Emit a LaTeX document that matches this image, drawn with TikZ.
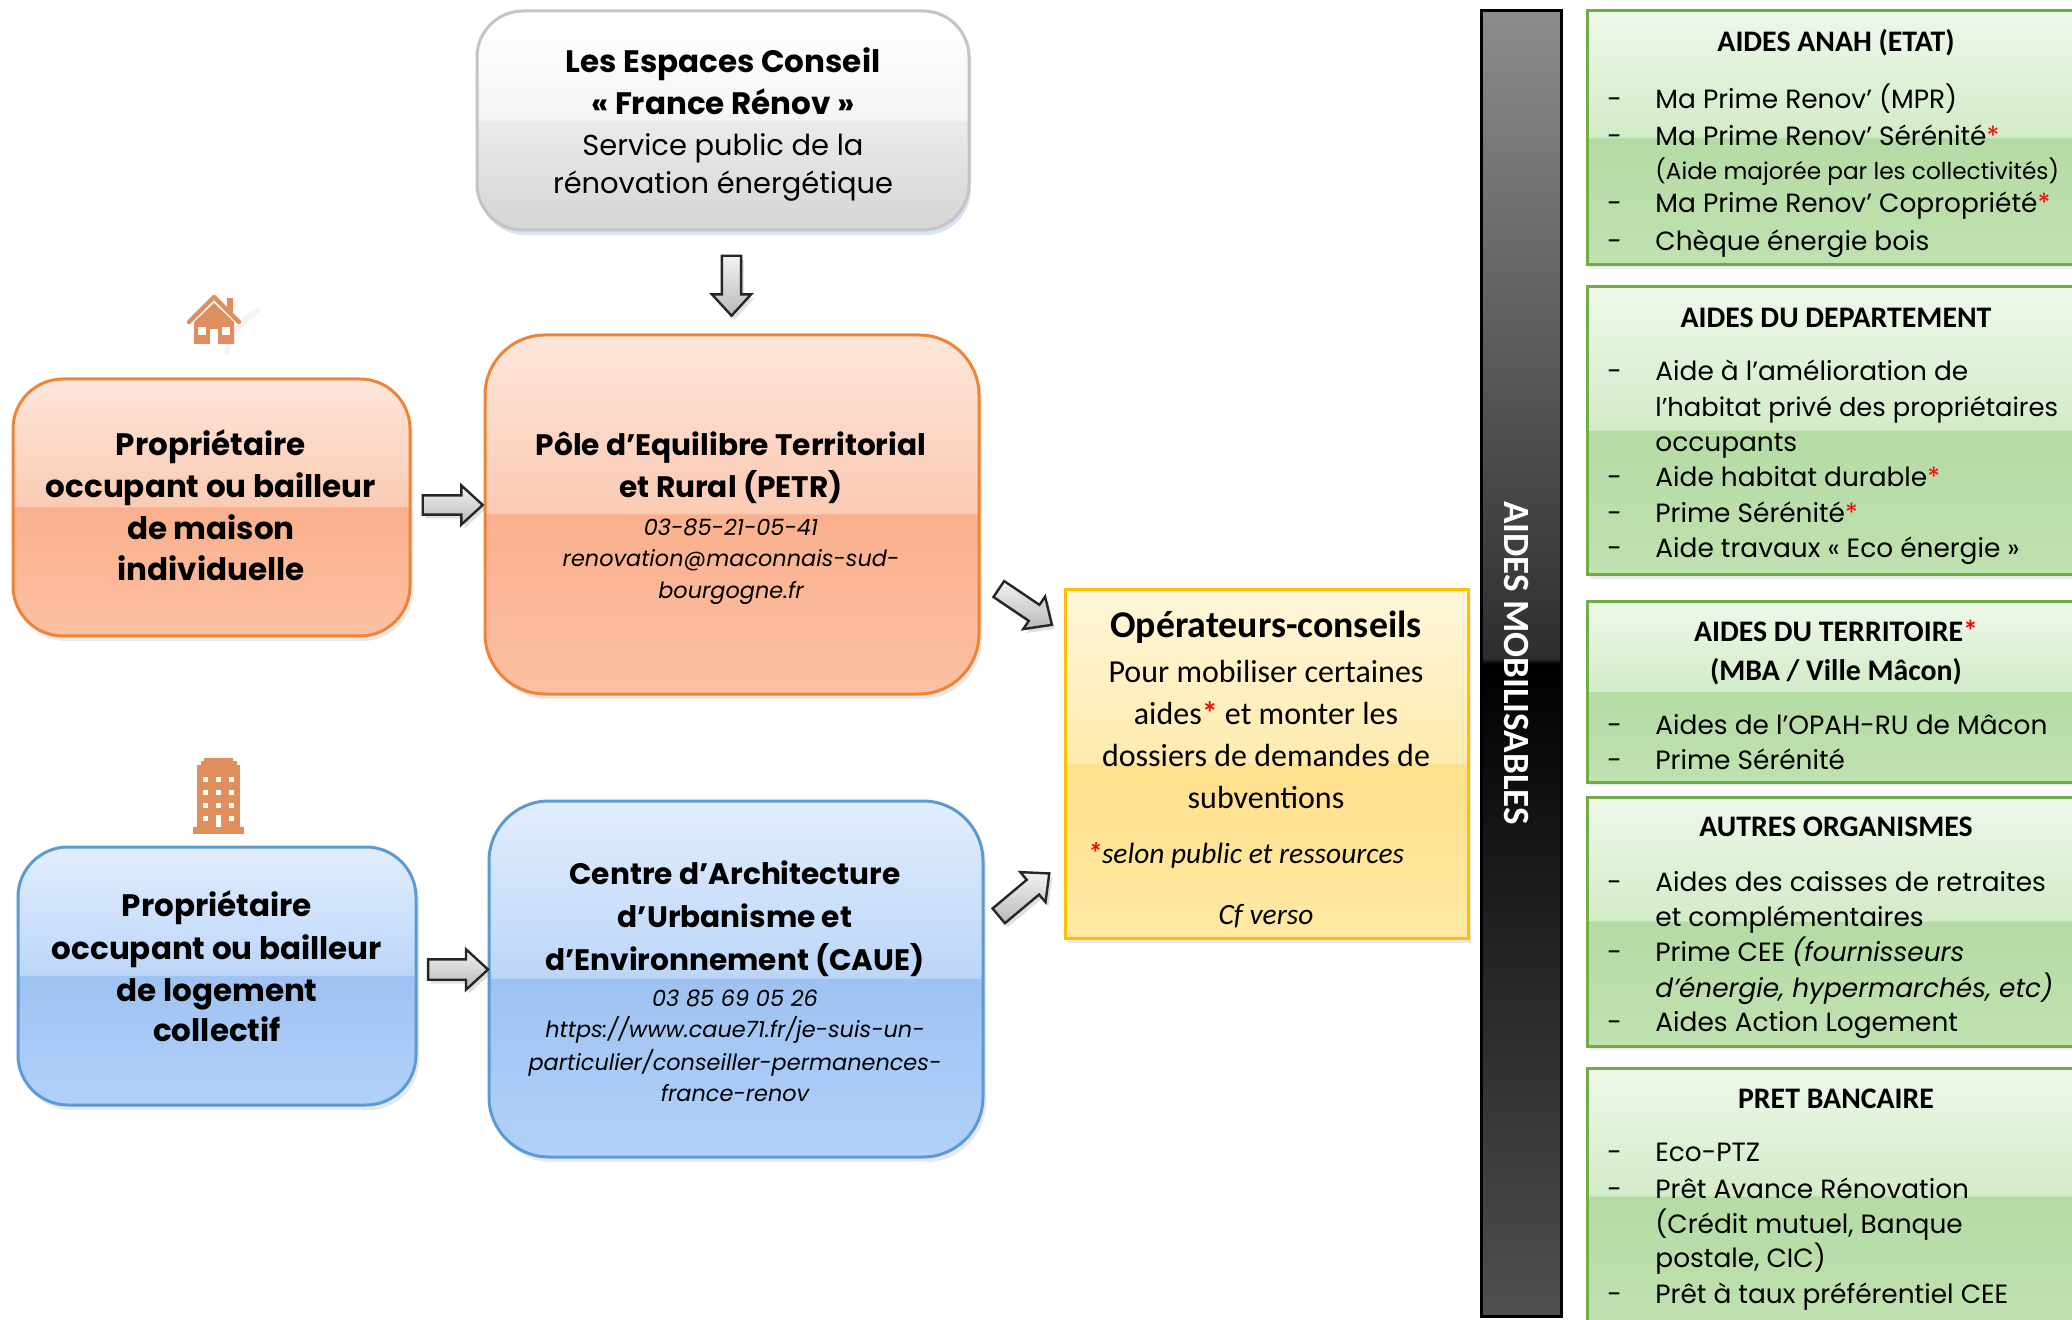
\documentclass[tikz,border=0pt]{standalone}
\usepackage{fontspec}
\setmainfont{Poppins}
\newfontfamily\calib{Carlito}
\usetikzlibrary{shapes.arrows,shadows,calc}

\definecolor{orT}{HTML}{FDE6DB}
\definecolor{orU}{HTML}{FBCBB3}
\definecolor{orL}{HTML}{FAB08D}
\definecolor{orB}{HTML}{FCC0A3}
\definecolor{orD}{HTML}{EE8435}
\definecolor{blT}{HTML}{E2EEFD}
\definecolor{blU}{HTML}{BCD6F8}
\definecolor{blL}{HTML}{9EC2F1}
\definecolor{blB}{HTML}{B1D1FA}
\definecolor{blD}{HTML}{5B9BD5}
\definecolor{gyT}{HTML}{FFFFFF}
\definecolor{gyU}{HTML}{F5F5F5}
\definecolor{gyL}{HTML}{EBEBEB}
\definecolor{gyB}{HTML}{D5D5D5}
\definecolor{gyD}{HTML}{C4C4C4}
\definecolor{yeT}{HTML}{FFF7DA}
\definecolor{yeU}{HTML}{FFEBAE}
\definecolor{yeL}{HTML}{FFE08C}
\definecolor{yeB}{HTML}{FFE9A3}
\definecolor{yeD}{HTML}{FFC000}
\definecolor{gnT}{HTML}{EEF8EA}
\definecolor{gnU}{HTML}{D3EBC8}
\definecolor{gnL}{HTML}{B5DBA4}
\definecolor{gnB}{HTML}{C0E1B0}
\definecolor{gnD}{HTML}{70AD47}
\definecolor{bkT}{HTML}{8C8C8C}
\definecolor{bkU}{HTML}{2E2E2E}
\definecolor{bkL}{HTML}{000000}
\definecolor{bkB}{HTML}{505050}
\definecolor{iconc}{HTML}{DF8F5E}
\definecolor{shadowblue}{HTML}{8FAEDC}

\pgfdeclareverticalshading{orgloss}{100bp}{color(0bp)=(orB); color(25bp)=(orB); color(50bp)=(orL); color(50.2bp)=(orU); color(75bp)=(orT); color(100bp)=(orT)}
\pgfdeclareverticalshading{blgloss}{100bp}{color(0bp)=(blB); color(25bp)=(blB); color(50bp)=(blL); color(50.2bp)=(blU); color(75bp)=(blT); color(100bp)=(blT)}
\pgfdeclareverticalshading{gygloss}{100bp}{color(0bp)=(gyB); color(25bp)=(gyB); color(50bp)=(gyL); color(50.2bp)=(gyU); color(75bp)=(gyT); color(100bp)=(gyT)}
\pgfdeclareverticalshading{yegloss}{100bp}{color(0bp)=(yeB); color(25bp)=(yeB); color(50bp)=(yeL); color(50.2bp)=(yeU); color(75bp)=(yeT); color(100bp)=(yeT)}
\pgfdeclareverticalshading{gngloss}{100bp}{color(0bp)=(gnB); color(25bp)=(gnB); color(50bp)=(gnL); color(50.2bp)=(gnU); color(75bp)=(gnT); color(100bp)=(gnT)}
\pgfdeclareverticalshading{bkgloss}{100bp}{color(0bp)=(bkB); color(25bp)=(bkB); color(50bp)=(bkL); color(50.2bp)=(bkU); color(75bp)=(bkT); color(100bp)=(bkT)}

\tikzset{
  box/.style={rectangle, inner sep=0pt, line width=1.5pt},
  softshadow/.style={drop shadow={opacity=.18, shadow xshift=1.5pt, shadow yshift=-2.5pt}},
  obox/.style={box, rounded corners=25pt, shading=orgloss, draw=orD, softshadow},
  bbox/.style={box, rounded corners=25pt, shading=blgloss, draw=blD, softshadow},
  gbox/.style={box, rounded corners=23pt, shading=gygloss, draw=gyD,
     drop shadow={fill=shadowblue, opacity=.35, shadow xshift=1pt, shadow yshift=-2.5pt}},
  ybox/.style={box, shading=yegloss, draw=yeD, softshadow},
  grbox/.style={box, shading=gngloss, draw=gnD, drop shadow={opacity=.15, shadow xshift=1.5pt, shadow yshift=-2pt}},
  kbar/.style={box, shading=bkgloss, draw=black},
  barrow/.style={single arrow, draw=black!85, line width=1.2pt, inner xsep=0pt, inner ysep=4.2pt,
     minimum height=30pt, minimum width=1pt, single arrow head extend=5pt,
     single arrow tip angle=85, top color=gray!10, bottom color=gray!55,
     drop shadow={opacity=.25, shadow xshift=1.5pt, shadow yshift=-2pt}},
  txt/.style={inner sep=0pt, anchor=mid, yshift=-2.5pt},
  ttl/.style={txt, font=\fontsize{15.5}{19}\selectfont\bfseries},
  ttlb/.style={txt, font=\fontsize{14.8}{18}\selectfont\bfseries},
  reg/.style={txt, font=\fontsize{14.45}{18}\selectfont},
  sml/.style={txt, font=\fontsize{11.2}{14}\selectfont\itshape},
  ybold/.style={txt, font=\calib\fontsize{18.9}{22}\selectfont\bfseries},
  yreg/.style={txt, font=\calib\fontsize{16}{19}\selectfont},
  yit/.style={txt, font=\calib\fontsize{14.7}{17}\selectfont\itshape},
  gh/.style={txt, font=\calib\fontsize{14.9}{17}\selectfont\bfseries},
  gi/.style={txt, anchor=mid west, font=\fontsize{13.2}{16}\selectfont},
  gis/.style={txt, anchor=mid west, font=\fontsize{11.6}{13}\selectfont},
}
\newcommand\ItemDash[3]{\node[gi] (#1d) at (1607,#2) {-}; \node[gi] (#1) at (1655,#2) {#3};}
\newcommand\ItemCont[3]{\node[gi] (#1) at (1655,#2) {#3};}
\newcommand\rs{\textcolor{red}{*}}
\newcommand\rsb{\textcolor{red}{\bfseries*}}

\begin{document}
\begin{tikzpicture}[x=0.5pt,y=-0.5pt]
\useasboundingbox (0,0) rectangle (2072,1320);

% ---------- boxes ----------
\node[gbox, minimum width=246pt, minimum height=109.5pt] (espaces) at (723,120.5) {};
\node[obox, minimum width=198.5pt, minimum height=128.5pt] (proprio1) at (211.5,507.5) {};
\node[obox, rounded corners=30pt, minimum width=247pt, minimum height=179.5pt] (petr) at (732,514.5) {};
\node[bbox, minimum width=199pt, minimum height=129pt] (proprio2) at (217,976) {};
\node[bbox, rounded corners=30pt, minimum width=247pt, minimum height=178pt] (caue) at (736,979) {};
\node[ybox, minimum width=201.5pt, minimum height=174pt] (oper) at (1266.5,764) {};
\node[kbar, minimum width=40pt, minimum height=652.5pt] (bar) at (1521,663.5) {};

\node[grbox, minimum width=266.5pt, minimum height=127pt] (g1) at (1853.5,138) {};
\node[grbox, minimum width=266.5pt, minimum height=144pt] (g2) at (1853.5,431) {};
\node[grbox, minimum width=266.5pt, minimum height=90pt] (g3) at (1853.5,692) {};
\node[grbox, minimum width=266.5pt, minimum height=124.5pt] (g4) at (1853.5,921.5) {};
\node[grbox, minimum width=266.5pt, minimum height=128.5pt] (g5) at (1853.5,1196.5) {};

% ---------- block arrows ----------
\node[barrow, rotate=-90] (a1) at ($(espaces.south)!0.5!(petr.north)+(4,-2)$) {};
\node[barrow] (a2) at ($(proprio1.east)!0.5!(petr.west)+(0,-6)$) {};
\node[barrow, inner ysep=4.5pt] (a3) at ($(proprio2.east)!0.5!(caue.west)+(0,-8)$) {};
\node[barrow, rotate=-34, minimum height=32pt] (a4) at (1021,604) {};
\node[barrow, rotate=40, minimum height=33pt] (a5) at (1020,898) {};

% ---------- icons ----------
\draw[gray!9, line width=3pt, line cap=round] (258,310) .. controls (240,322) and (229,336) .. (227,352);
\fill[iconc] (194,344) -- (194,322) -- (214,303) -- (234,322) -- (234,344) -- cycle;
\draw[iconc, line width=2.2pt, line cap=round, line join=round] (189,322) -- (214,297) -- (239,322);
\fill[iconc] (227,298) rectangle (233,312);
\fill[white] (198,327) rectangle (206,335);
\fill[white] (222,327) rectangle (230,335);
\fill[white] (210,329) rectangle (218,344);

\fill[iconc] (204,758) rectangle (233,763);
\fill[iconc] (201,761) rectangle (237,767);
\fill[iconc] (197,765) rectangle (240,829);
\fill[iconc] (193,827) rectangle (244,834);
\foreach \yy in {777,790,803} {
  \foreach \xx in {203,216,229} {\fill[white] (\xx,\yy) rectangle ++(5,5);}
}
\fill[white] (203,816) rectangle ++(5,5);
\fill[white] (229,816) rectangle ++(5,5);
\fill[white] (216,815) rectangle (221,827);

% ---------- texts ----------
\node[ttl] (e1) at (723,62) {Les Espaces Conseil};
\node[ttl] (e2) at (723,104) {« France Rénov »};
\node[reg] (e3) at (723,145) {Service public de la};
\node[reg] (e4) at (723,183) {rénovation énergétique};

\node[ttl] (p1) at (211,445) {Propriétaire};
\node[ttl] (p2) at (211,487) {occupant ou bailleur};
\node[ttl] (p3) at (211,529) {de maison};
\node[ttl] (p4) at (211,570) {individuelle};

\node[ttlb] (t1) at (731,445) {Pôle d’Equilibre Territorial};
\node[ttlb] (t2) at (731,487) {et Rural (PETR)};
\node[sml] (t3) at (731,525) {03-85-21-05-41};
\node[sml] (t4) at (731,556) {renovation@maconnais-sud-};
\node[sml] (t5) at (731,588) {bourgogne.fr};

\node[ttl] (q1) at (217,906) {Propriétaire};
\node[ttl] (q2) at (217,949) {occupant ou bailleur};
\node[ttl] (q3) at (217,991) {de logement};
\node[ttl] (q4) at (217,1031) {collectif};

\node[ttlb] (c1) at (735,874) {Centre d’Architecture};
\node[ttlb] (c2) at (735,917) {d’Urbanisme et};
\node[ttlb] (c3) at (735,960) {d’Environnement (CAUE)};
\node[sml] (c4) at (735,996) {03 85 69 05 26};
\node[sml] (c5) at (735,1027) {https://www.caue71.fr/je-suis-un-};
\node[sml] (c6) at (735,1060) {particulier/conseiller-permanences-};
\node[sml] (c7) at (735,1091) {france-renov};

\node[ybold] (o1) at (1266,627) {Opérateurs-conseils};
\node[yreg] (o2) at (1266,672) {Pour mobiliser certaines};
\node[yreg] (o3) at (1266,714) {aides\rsb{} et monter les};
\node[yreg] (o4) at (1266,756) {dossiers de demandes de};
\node[yreg] (o5) at (1266,798) {subventions};
\node[yit, anchor=mid west] (o6) at (1087,853) {\rsb selon public et ressources};
\node[yit] (o7) at (1266,914) {Cf verso};

\node[rotate=-90, inner sep=0pt, text=white, font=\calib\fontsize{18.5}{22}\selectfont\bfseries] (vlab) at (1516,663) {AIDES MOBILISABLES};

\node[gh] (h1) at (1836,41) {AIDES ANAH (ETAT)};
\ItemDash{i11}{98}{Ma Prime Renov’ (MPR)}
\ItemDash{i12}{135}{Ma Prime Renov’ Sérénité\rs}
\node[gis] (i13) at (1655,169) {(Aide majorée par les collectivités)};
\ItemDash{i14}{202}{Ma Prime Renov’ Copropriété\rs}
\ItemDash{i15}{240}{Chèque énergie bois}

\node[gh] (h2) at (1836,317) {AIDES DU DEPARTEMENT};
\ItemDash{i21}{370}{Aide à l’amélioration de}
\node[gi, font=\fontsize{12.9}{16}\selectfont] (i22) at (1655,406) {l’habitat privé des propriétaires};
\ItemCont{i23}{441}{occupants}
\ItemDash{i24}{476}{Aide habitat durable\rs}
\ItemDash{i25}{512}{Prime Sérénité\rs}
\ItemDash{i26}{547}{Aide travaux « Eco énergie »}

\node[gh] (h3) at (1836,631) {AIDES DU TERRITOIRE\rs};
\node[gh] (h3b) at (1836,670) {(MBA / Ville Mâcon)};
\ItemDash{i31}{724}{Aides de l’OPAH-RU de Mâcon}
\ItemDash{i32}{759}{Prime Sérénité}

\node[gh] (h4) at (1836,826) {AUTRES ORGANISMES};
\ItemDash{i41}{881}{Aides des caisses de retraites}
\ItemCont{i42}{916}{et complémentaires}
\ItemDash{i43}{951}{Prime CEE \textit{(fournisseurs}}
\ItemCont{i44}{987}{\textit{d’énergie, hypermarchés, etc)}}
\ItemDash{i45}{1021}{Aides Action Logement}

\node[gh] (h5) at (1836,1098) {PRET BANCAIRE};
\ItemDash{i51}{1151}{Eco-PTZ}
\ItemDash{i52}{1188}{Prêt Avance Rénovation}
\ItemCont{i53}{1223}{(Crédit mutuel, Banque}
\ItemCont{i54}{1257}{postale, CIC)}
\ItemDash{i55}{1293}{Prêt à taux préférentiel CEE}
\end{tikzpicture}
\end{document}
